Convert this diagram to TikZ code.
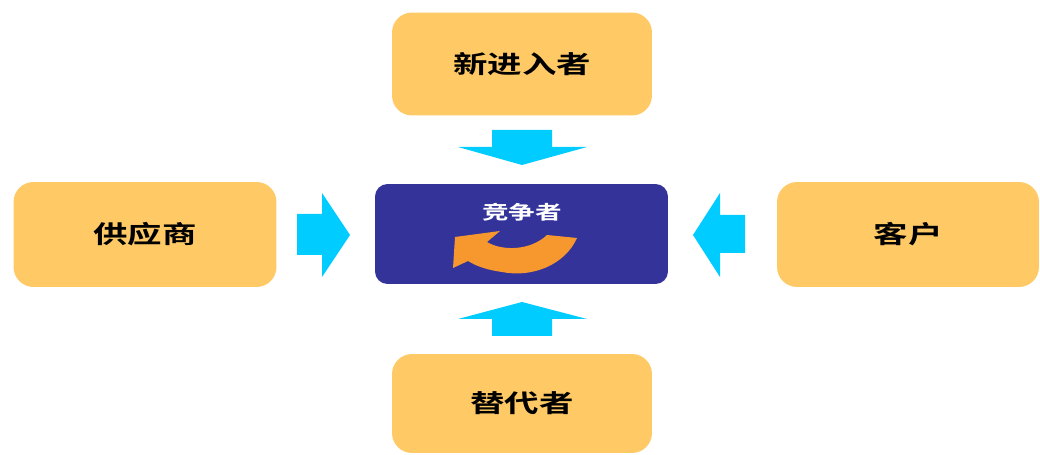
\documentclass[tikz,border=0pt]{standalone}
\usepackage{fontspec}
\newfontfamily\cjk{Noto Sans CJK SC}[BoldFont=* Bold]
\definecolor{boxyellow}{HTML}{FFCA66}
\definecolor{centerblue}{HTML}{333399}
\definecolor{arrowcyan}{HTML}{00CCFF}
\definecolor{curveorange}{HTML}{F7982F}
\newcommand{\wide}[1]{\scalebox{1.4}[1]{#1}}
\begin{document}
\begin{tikzpicture}[x=0.02cm,y=-0.02cm,
  forcebox/.style={fill=boxyellow,draw=none,rounded corners=0.4cm,
    font=\cjk\bfseries\fontsize{14pt}{16pt}\selectfont,text=black,
    minimum width=5.2cm,minimum height=2.06cm,inner sep=0pt},
  corebox/.style={fill=centerblue,draw=none,rounded corners=0.25cm,
    minimum width=5.86cm,minimum height=2cm,inner sep=0pt},
  corelabel/.style={font=\cjk\bfseries\fontsize{10.8pt}{12pt}\selectfont,text=white,inner sep=0pt},
  blockarrow/.style={fill=arrowcyan,draw=none},
  curvearrow/.style={fill=curveorange,draw=none}]
\useasboundingbox (0,0) rectangle (1040,455);
\node[forcebox] (entrant) at (522,64) {\wide{新进入者}};
\node[forcebox,minimum height=1.98cm] (subst) at (522,403.5) {\wide{替代者}};
\node[forcebox,minimum width=5.26cm,minimum height=2.1cm] (supplier) at (145,234.5) {\wide{供应商}};
\node[forcebox,minimum width=5.24cm,minimum height=2.1cm] (customer) at (908,234.5) {\wide{客户}};
\node[corebox] (core) at (521.5,234) {};
\node[corelabel] (corelbl) at (522,212) {\wide{竞争者}};
% block arrows
\fill[blockarrow] (492,130) -- (552,130) -- (552,147) -- (587,147) -- (522,165) -- (458,147) -- (492,147) -- cycle;
\fill[blockarrow] (492,336) -- (552,336) -- (552,319) -- (587,319) -- (522,302) -- (458,319) -- (492,319) -- cycle;
\fill[blockarrow] (297,214) -- (322,214) -- (322,193) -- (350,235) -- (322,277) -- (322,255) -- (297,255) -- cycle;
\fill[blockarrow] (745,215) -- (720,215) -- (720,193) -- (693,235) -- (720,277) -- (720,253) -- (745,253) -- cycle;
% curved arrow
\fill[curvearrow] (500,231) -- (487,242)
  .. controls (502,251) and (530,251) .. (547,235)
  -- (577,238)
  .. controls (565,265) and (532,278) .. (502,272)
  .. controls (487,270) and (476,266) .. (468,261)
  -- (453,268) -- (455,237) -- cycle;
\end{tikzpicture}
\end{document}
